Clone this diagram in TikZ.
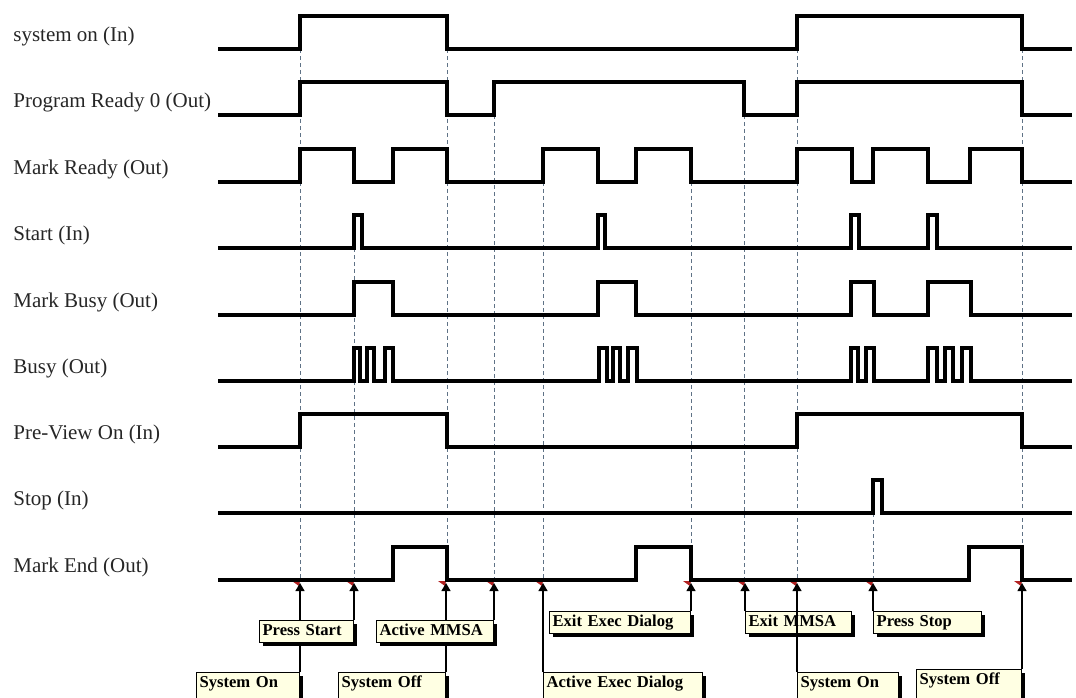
\documentclass[tikz,border=0pt]{standalone}
\usepackage{fontspec}
\setmainfont{Liberation Serif}
\usepackage{xcolor}
\usepackage{tikz}
\usetikzlibrary{arrows.meta, shadows, backgrounds, positioning}
\definecolor{guidegray}{HTML}{5F7286}
\definecolor{boxfill}{HTML}{FFFFE3}
\definecolor{markred}{HTML}{B22222}
\tikzset{
  sig/.style={
    line width=1.6pt, line join=miter, color=black
  },
  guide/.style={
    dash pattern=on 2pt off 1.5pt, line width=0.45pt, color=guidegray
  },
  siglabel/.style={
    anchor=base west, inner sep=0pt,
    font=\fontsize{10.5}{12}\selectfont, text=black!85
  },
  evbox/.style={
    rectangle, draw=black, line width=0.6pt, fill=boxfill,
    anchor=north west, align=left,
    inner xsep=1.5pt, inner ysep=1pt,
    text height=6.5pt, text depth=2.5pt,
    font=\fontsize{8.3}{10}\selectfont\bfseries,
    drop shadow={shadow xshift=1.5pt, shadow yshift=-1.5pt, fill=black, opacity=1}
  },
  lowbox/.style={
    evbox, text depth=12pt
  },
  evarrow/.style={
    -{Triangle[length=4pt, width=4.5pt]}, line width=0.6pt, color=black
  },
  evmark/.style={
    fill=markred
  }
}

\begin{document}
\begin{tikzpicture}[x=0.5pt, y=-0.5pt]
  \useasboundingbox (0,0) rectangle (1076,697);
  \clip (0,0) rectangle (1076,697);

  % ── Signal names ──────────────────────────────────────────────────────
  \node[siglabel] (lsys)   at (13,41.5)  {system on (In)};
  \node[siglabel] (lprog)  at (13,107.5) {Program Ready 0 (Out)};
  \node[siglabel] (lmrdy)  at (13,174.5) {Mark Ready (Out)};
  \node[siglabel] (lstart) at (13,240.5) {Start (In)};
  \node[siglabel] (lmbusy) at (13,307.5) {Mark Busy (Out)};
  \node[siglabel] (lbusy)  at (13,373.5) {Busy (Out)};
  \node[siglabel] (lprev)  at (13,439.5) {Pre-View On (In)};
  \node[siglabel] (lstop)  at (13,505.5) {Stop (In)};
  \node[siglabel] (lmend)  at (13,572.5) {Mark End (Out)};

  % ── Waveforms ─────────────────────────────────────────────────────────
  \draw[sig] (218,49) -| (300,16) -| (447,49) -| (797,16) -| (1022,49) -- (1072,49);
  \draw[sig] (218,115) -| (300,82) -| (447,115) -| (494,82) -| (744,115)
             -| (797,82) -| (1022,115) -- (1072,115);
  \draw[sig] (218,182) -| (300,149) -| (354,182) -| (393,149) -| (447,182)
             -| (543,149) -| (598,182) -| (636,149) -| (691,182)
             -| (797,149) -| (852,182) -| (873,149) -| (928,182)
             -| (970,149) -| (1022,182) -- (1072,182);
  \draw[sig] (218,248) -| (354,215) -| (362,248) -| (598,215) -| (605,248)
             -| (851,215) -| (859,248) -| (928,215) -| (937,248) -- (1072,248);
  \draw[sig] (218,315) -| (354,282) -| (393,315) -| (598,282) -| (636,315)
             -| (851,282) -| (874,315) -| (928,282) -| (971,315) -- (1072,315);
  \draw[sig] (218,381) -| (354,348) -| (360,381) -| (367,348) -| (374,381)
             -| (385,348) -| (393,381)
             -| (599,348) -| (607,381) -| (613,348) -| (620,381)
             -| (628,348) -| (637,381)
             -| (851,348) -| (858,381) -| (866,348) -| (874,381)
             -| (928,348) -| (937,381) -| (945,348) -| (953,381)
             -| (962,348) -| (971,381) -- (1072,381);
  \draw[sig] (218,447) -| (300,414) -| (447,447) -| (797,414) -| (1022,447) -- (1072,447);
  \draw[sig] (218,513) -| (873,480) -| (882,513) -- (1072,513);
  \draw[sig] (218,580) -| (393,547) -| (447,580) -| (636,547) -| (691,580)
             -| (969,547) -| (1022,580) -- (1072,580);

  % ── Event points on the Mark End line ─────────────────────────────────
  \coordinate (tOn1)     at (300,583);
  \coordinate (tStart)   at (354,583);
  \coordinate (tOff1)    at (446,583);
  \coordinate (tMMSA)    at (494,583);
  \coordinate (tExecOn)  at (543,583);
  \coordinate (tExecOff) at (691,583);
  \coordinate (tMMSAoff) at (745,583);
  \coordinate (tOn2)     at (797,583);
  \coordinate (tStop)    at (873,583);
  \coordinate (tOff2)    at (1022,583);

  % ── Event boxes ───────────────────────────────────────────────────────
  \node[evbox, text width=44pt]   (bStart)   at (259,620) {Press Start};
  \node[evbox, text width=55.5pt] (bMMSA)    at (376,620) {Active MMSA};
  \node[evbox, text width=67.5pt] (bExecOff) at (549,611) {Exit Exec Dialog};
  \node[evbox, text width=50pt]   (bMMSAoff) at (745,611) {Exit MMSA};
  \node[evbox, text width=51pt]   (bStop)    at (873,611) {Press Stop};

  \node[lowbox, text width=48.5pt] (bOn1)    at (196,672) {System On};
  \node[lowbox, text width=50.5pt] (bOff1)   at (338,672) {System Off};
  \node[lowbox, text width=76.5pt] (bExecOn) at (543,672) {Active Exec Dialog};
  \node[lowbox, text width=47.5pt] (bOn2)    at (797,672) {System On};
  \node[lowbox, text width=49.5pt] (bOff2)   at (916,669) {System Off};

  % ── Guides, markers and connectors (behind the boxes) ─────────────────
  \begin{scope}[on background layer]
    \draw[guide] (300,49)  -- (300,580);
    \draw[guide] (354,248) -- (354,580);
    \draw[guide] (447,49)  -- (447,580);
    \draw[guide] (494,115) -- (494,580);
    \draw[guide] (543,182) -- (543,580);
    \draw[guide] (691,182) -- (691,580);
    \draw[guide] (744,115) -- (744,580);
    \draw[guide] (797,49)  -- (797,580);
    \draw[guide] (873,513) -- (873,580);
    \draw[guide] (1022,49) -- (1022,580);

    \foreach \t in {tOn1,tStart,tOff1,tMMSA,tExecOn,tExecOff,tMMSAoff,tOn2,tStop,tOff2}
      \fill[evmark, shift={(\t)}] (-8,-2) -- (0,-2) -- (-1,3) -- cycle;

    \draw[evarrow] (tOn1 |- bOn1.north)         -- (tOn1);
    \draw[evarrow] (tStart |- bStart.north)     -- (tStart);
    \draw[evarrow] (tOff1 |- bOff1.north)       -- (tOff1);
    \draw[evarrow] (tMMSA |- bMMSA.north)       -- (tMMSA);
    \draw[evarrow] (tExecOn |- bExecOn.north)   -- (tExecOn);
    \draw[evarrow] (tExecOff |- bExecOff.north) -- (tExecOff);
    \draw[evarrow] (tMMSAoff |- bMMSAoff.north) -- (tMMSAoff);
    \draw[evarrow] (tStop |- bStop.north)       -- (tStop);
    \draw[evarrow] (tOff2 |- bOff2.north)       -- (tOff2);
  \end{scope}

  % this one runs over the Exit MMSA box
  \draw[evarrow] (tOn2 |- bOn2.north) -- (tOn2);

\end{tikzpicture}
\end{document}
